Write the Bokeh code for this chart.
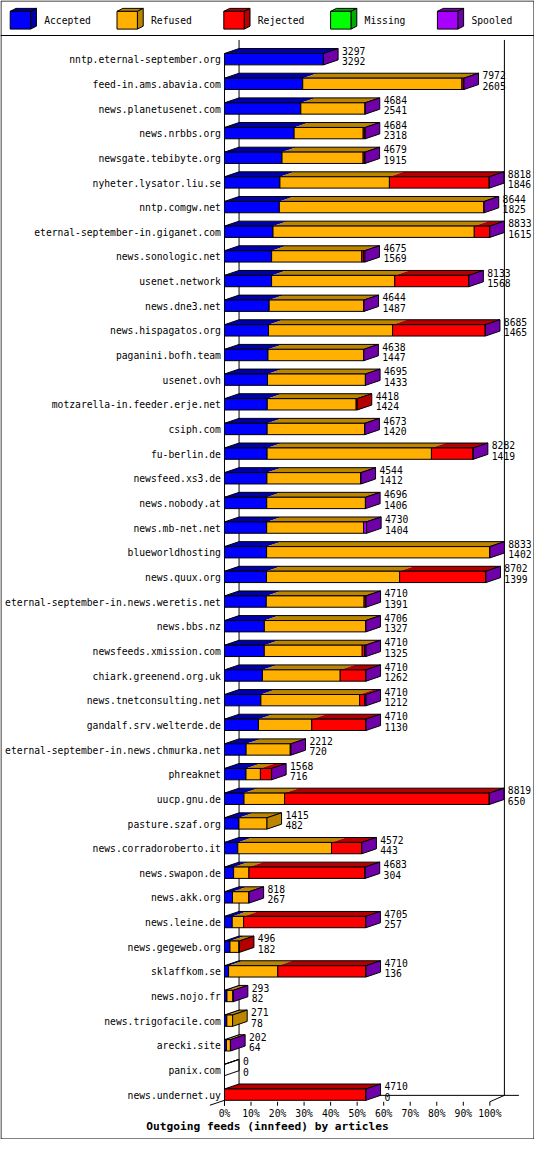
from bokeh.plotting import figure
from bokeh.models import Range1d
from bokeh.embed import file_html
from bokeh.resources import INLINE
from bokeh.core.properties import value

# ---------------- data ----------------
HOSTS = [
    "nntp.eternal-september.org", "feed-in.ams.abavia.com", "news.planetusenet.com",
    "news.nrbbs.org", "newsgate.tebibyte.org", "nyheter.lysator.liu.se", "nntp.comgw.net",
    "eternal-september-in.giganet.com", "news.sonologic.net", "usenet.network",
    "news.dne3.net", "news.hispagatos.org", "paganini.bofh.team", "usenet.ovh",
    "motzarella-in.feeder.erje.net", "csiph.com", "fu-berlin.de", "newsfeed.xs3.de",
    "news.nobody.at", "news.mb-net.net", "blueworldhosting", "news.quux.org",
    "eternal-september-in.news.weretis.net", "news.bbs.nz", "newsfeeds.xmission.com",
    "chiark.greenend.org.uk", "news.tnetconsulting.net", "gandalf.srv.welterde.de",
    "eternal-september-in.news.chmurka.net", "phreaknet", "uucp.gnu.de",
    "pasture.szaf.org", "news.corradoroberto.it", "news.swapon.de", "news.akk.org",
    "news.leine.de", "news.gegeweb.org", "sklaffkom.se", "news.nojo.fr",
    "news.trigofacile.com", "arecki.site", "panix.com", "news.undernet.uy",
]
TOTAL = [3297, 7972, 4684, 4684, 4679, 8818, 8644, 8833, 4675, 8133, 4644, 8685, 4638,
         4695, 4418, 4673, 8282, 4544, 4696, 4730, 8833, 8702, 4710, 4706, 4710, 4710,
         4710, 4710, 2212, 1568, 8819, 1415, 4572, 4683, 818, 4705, 496, 4710, 293, 271,
         202, 0, 4710]
ACCEPTED = [3292, 2605, 2541, 2318, 1915, 1846, 1825, 1615, 1569, 1568, 1487, 1465, 1447,
            1433, 1424, 1420, 1419, 1412, 1406, 1404, 1402, 1399, 1391, 1327, 1325, 1262,
            1212, 1130, 720, 716, 650, 482, 443, 304, 267, 257, 182, 136, 82, 78, 64, 0, 0]
REFUSED = [0, 5300, 2140, 2300, 2700, 3644, 6814, 6700, 3000, 4100, 3152, 4130, 3186,
           3257, 2960, 3248, 5470, 3127, 3285, 3226, 7426, 4430, 3257, 3374, 3260, 2590,
           3285, 1775, 1470, 480, 1350, 933, 3120, 510, 546, 380, 300, 1640, 200, 193,
           133, 0, 0]
REJECTED = [0, 60, 0, 60, 58, 3323, 0, 513, 60, 2460, 0, 3085, 0, 0, 34, 0, 1388, 0, 0, 0,
            0, 2868, 57, 0, 80, 853, 170, 1800, 0, 367, 6814, 0, 1004, 3864, 0, 4063, 14,
            2929, 0, 0, 0, 0, 4705]
MISSING = [0, 0, 0, 0, 0, 0, 0, 0, 0, 0, 0, 0, 0, 0, 0, 0, 0, 0, 0, 0, 0, 0, 0, 0, 0, 0,
           0, 0, 0, 0, 0, 0, 0, 0, 0, 0, 0, 0, 0, 0, 0, 0, 0]
SPOOLED = [5, 7, 3, 6, 6, 5, 5, 5, 46, 5, 5, 5, 5, 5, 0, 5, 5, 5, 5, 100, 5, 5, 5, 5, 45,
           5, 43, 5, 22, 5, 5, 0, 5, 5, 5, 5, 0, 5, 11, 0, 5, 0, 5]

SERIES = ["Accepted", "Refused", "Rejected", "Missing", "Spooled"]
FRONT = ["#0000FF", "#FFB000", "#FF0000", "#00FF00", "#A800FF"]
DARK = ["#0000AA", "#BB8500", "#B40000", "#00AA00", "#7000A8"]

TICKS = [0, 10, 20, 30, 40, 50, 60, 70, 80, 90, 100]
TICK_LABELS = ["0%", "10%", "20%", "30%", "40%", "50%", "60%", "70%", "80%", "90%", "100%"]
TITLE = "Outgoing feeds (innfeed) by articles"

# ---------------- layout (reference pixel units) ----------------
W_REF, H_REF = 550, 1155
PX0, PXW = 230.7, 273.3     # 0% position, width of 100%
ROW0, ROWH = 59.5, 25.0      # first row centre, row pitch
DEPTH_X, DEPTH_Y = 15.0, 5.0
BAR_H = 11.5
FONT = value("DejaVu Sans Mono")
FS = "9.7px"


def X(rx):
    return (rx - PX0) / PXW * 100.0


def Y(ry):
    return (ry - ROW0) / ROWH


dx = DEPTH_X / PXW * 100.0
dy = DEPTH_Y / ROWH
hh = BAR_H / 2.0 / ROWH
N = len(HOSTS)
MAXV = max(TOTAL)

p = figure(width=534, height=1139,
           x_range=Range1d(X(0), X(W_REF)), y_range=Range1d(Y(H_REF), Y(0)),
           x_axis_type=None, y_axis_type=None, toolbar_location=None,
           output_backend="svg", min_border=0)
p.outline_line_color = None
p.background_fill_color = "white"
p.border_fill_color = "white"

# ---------------- frame / walls ----------------
floor_front = (N - 1) + hh
floor_back = floor_front - dy
wall_xs = [
    [dx, dx], [100 + dx, 100 + dx],
    [dx, 100 + 2 * dx],
    [100, 100 + dx],
    [-dx, 0],
    [0, 0],
]
wall_ys = [
    [Y(40), floor_back], [Y(40), floor_back],
    [floor_back, floor_back],
    [floor_front + 1.5 / ROWH, floor_back],
    [floor_front + dy, floor_front],
    [0 - hh, floor_front + 5.5 / ROWH],
]
p.multi_line(wall_xs, wall_ys, line_color="black", line_width=1)

# ticks
p.segment(x0=TICKS, x1=TICKS,
          y0=[floor_front + 1.5 / ROWH] * len(TICKS),
          y1=[floor_front + 5.5 / ROWH] * len(TICKS),
          line_color="black", line_width=1)
p.text(x=TICKS, y=[Y(1128.5)] * len(TICKS), text=TICK_LABELS,
       text_font=FONT, text_font_size=FS, text_align="center",
       text_baseline="middle", text_color="black")

# ---------------- bars ----------------
top_xs, top_ys, top_c = [], [], []
out_xs, out_ys = [], []
fr_xs, fr_ys, fr_c = [], [], []
sd_xs, sd_ys, sd_c, sd_a = [], [], [], []
num_x, num_y, num_t = [], [], []

for i in range(N):
    segs = [ACCEPTED[i], REFUSED[i], REJECTED[i], MISSING[i], SPOOLED[i]]
    top, bot = i - hh, i + hh
    cum = 0
    last = None
    for k, v in enumerate(segs):
        if v <= 0:
            continue
        x0 = cum / MAXV * 100.0
        x1 = (cum + v) / MAXV * 100.0
        fr_xs.append([x0, x1, x1, x0])
        fr_ys.append([top, top, bot, bot])
        fr_c.append(FRONT[k])
        top_xs.append([x0, x1, x1 + dx, x0 + dx])
        top_ys.append([top, top, top - dy, top - dy])
        top_c.append(DARK[k])
        cum += v
        last = k
    xe = cum / MAXV * 100.0
    out_xs.append([0, xe, xe + dx, dx])
    out_ys.append([top, top, top - dy, top - dy])
    sd_xs.append([xe, xe + dx, xe + dx, xe])
    sd_ys.append([top, top - dy, bot - dy, bot])
    sd_c.append(DARK[last] if last is not None else "white")
    sd_a.append(1.0 if last is not None else 0.0)
    tx = xe + dx + 4.0 / PXW * 100.0
    num_x += [tx, tx]
    num_y += [i - 8.6 / ROWH, i + 2.0 / ROWH]
    num_t += [str(TOTAL[i]), str(ACCEPTED[i])]

p.patches(top_xs, top_ys, fill_color=top_c, line_color=None)
p.patches(out_xs, out_ys, fill_alpha=0, line_color="black", line_width=1)
p.patches(fr_xs, fr_ys, fill_color=fr_c, line_color="black", line_width=1)
p.patches(sd_xs, sd_ys, fill_color=sd_c, fill_alpha=sd_a, line_color="black", line_width=1)

p.text(x=num_x, y=num_y, text=num_t, text_font=FONT, text_font_size=FS,
       text_align="left", text_baseline="middle", text_color="black")
p.text(x=[X(227)] * N, y=[i + 0.6 / ROWH for i in range(N)], text=HOSTS,
       text_font=FONT, text_font_size=FS, text_align="right",
       text_baseline="middle", text_color="black")

# ---------------- legend ----------------
lg_fx, lg_fy, lg_fc = [], [], []
lg_tx, lg_ty, lg_tc = [], [], []
lg_sx, lg_sy, lg_sc = [], [], []
lg_lx, lg_ly = [], []
for k, name in enumerate(SERIES):
    l, r = 10 + 110 * k, 31 + 110 * k
    t, b = 11, 29
    lg_fx.append([X(l), X(r), X(r), X(l)])
    lg_fy.append([Y(t), Y(t), Y(b), Y(b)])
    lg_fc.append(FRONT[k])
    lg_tx.append([X(l), X(r), X(r + 6), X(l + 6)])
    lg_ty.append([Y(t), Y(t), Y(t - 3), Y(t - 3)])
    lg_tc.append(DARK[k])
    lg_sx.append([X(r), X(r + 6), X(r + 6), X(r)])
    lg_sy.append([Y(t), Y(t - 3), Y(b - 3), Y(b)])
    lg_sc.append(DARK[k])
    lg_lx.append(X(45 + 110 * k))
    lg_ly.append(Y(20.5))
p.patches(lg_tx, lg_ty, fill_color=lg_tc, line_color="black", line_width=1)
p.patches(lg_sx, lg_sy, fill_color=lg_sc, line_color="black", line_width=1)
p.patches(lg_fx, lg_fy, fill_color=lg_fc, line_color="black", line_width=1)
p.text(x=lg_lx, y=lg_ly, text=SERIES, text_font=FONT, text_font_size=FS,
       text_align="left", text_baseline="middle", text_color="black")

# ---------------- title & border ----------------
p.text(x=[X(275)], y=[Y(1141.5)], text=[TITLE], text_font=FONT,
       text_font_size="11.2px", text_font_style="bold", text_align="center",
       text_baseline="middle", text_color="black")
p.multi_line([[X(0.5), X(549.5), X(549.5), X(0.5), X(0.5)], [X(0), X(550)]],
             [[Y(0.5), Y(0.5), Y(1154.5), Y(1154.5), Y(0.5)], [Y(35.5), Y(35.5)]],
             line_color="black", line_width=1)

open("out.html", "w").write(file_html(p, INLINE))
